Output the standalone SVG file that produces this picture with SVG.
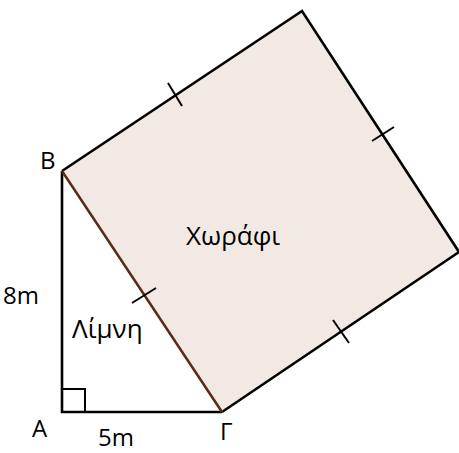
<svg xmlns="http://www.w3.org/2000/svg" width="459" height="453" viewBox="0 0 459 453">
<style>
.ln{stroke:#000;stroke-width:2.6;fill:none;stroke-linejoin:miter}
.tk{stroke:#000;stroke-width:2;fill:none}
.t{font-family:"Open Sans","Liberation Sans",sans-serif;font-size:24px;fill:#000}
.big{font-size:26px}
</style>
<rect width="459" height="453" fill="#fff"/>
<g id="field">
<polygon points="62,171 302,11 459,252 222,412" fill="#f2e9e5" stroke="none"/>
<polyline class="ln" points="62,171 302,11 459,252 222,412"/>
<text class="t big" x="186" y="245">Χωράφι</text>
</g>
<g id="lake">
<polyline class="ln" points="62,171 62,412 222,412"/>
<rect class="tk" x="62" y="389" width="23" height="23"/>
<text class="t big" x="72" y="338">Λίμνη</text>
</g>
<g id="connectors">
<line x1="62" y1="171" x2="222" y2="412" stroke="#5c2a14" stroke-width="2.5"/>
<line class="tk" x1="132" y1="303" x2="156" y2="288"/>
<line class="tk" x1="168" y1="83" x2="182" y2="106"/>
<line class="tk" x1="372" y1="141" x2="394" y2="127"/>
<line class="tk" x1="333" y1="320" x2="349" y2="343"/>
</g>
<g id="labels">
<text class="t" x="40" y="169">B</text>
<text class="t" x="32" y="437">A</text>
<text class="t" x="220" y="440">Γ</text>
<text class="t" x="98" y="446">5m</text>
<text class="t" x="3" y="304">8m</text>
</g>
</svg>
